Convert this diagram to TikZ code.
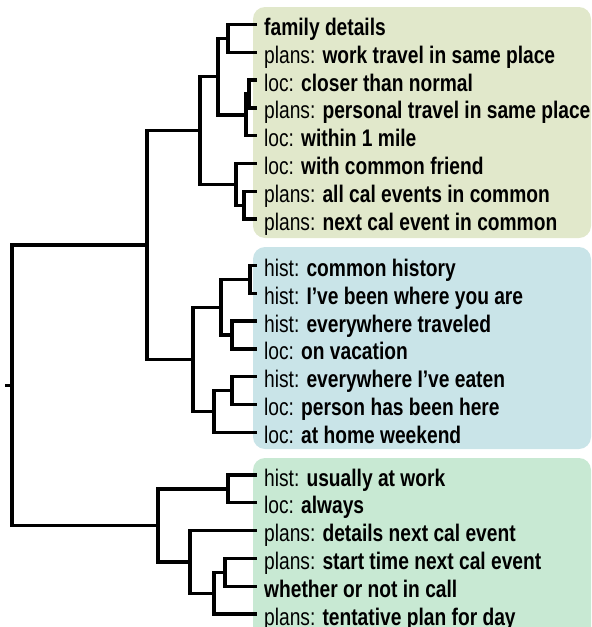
\documentclass[tikz,border=0pt]{standalone}
\usepackage{fontspec}
\setmainfont{Liberation Sans}[FakeStretch=0.8]
\usetikzlibrary{positioning}
\definecolor{pastelolive}{HTML}{E1E8CB}
\definecolor{pastelblue}{HTML}{C9E4E8}
\definecolor{pastelgreen}{HTML}{C8E9D3}
\tikzset{
  leaf/.style={anchor=west, inner xsep=7pt, inner ysep=0pt, text height=26pt, text depth=4pt, font=\fontsize{24}{26}\selectfont},
  under/.style={below=of #1.west, anchor=west},
  branch/.style={line width=3.3pt},
  panel/.style={rounded corners=12pt}
}
\begin{document}
\begin{tikzpicture}[x=1pt, y=-1pt, node distance = 27.8pt]
\useasboundingbox (0,0) rectangle (592,627);
\fill[panel, pastelolive] (253,7) rectangle (591,238);
\fill[panel, pastelblue] (253,247) rectangle (591,449);
\fill[panel, pastelgreen] (253,458) rectangle (591,650);

\node (t1) [leaf] at (257,24.5) {\textbf{family details}};
\node (t2) [leaf, under=t1] {plans: \textbf{work travel in same place}};
\node (t3) [leaf, under=t2] {loc: \textbf{closer than normal}};
\node (t4) [leaf, under=t3] {plans: \textbf{personal travel in same place}};
\node (t5) [leaf, under=t4] {loc: \textbf{within 1 mile}};
\node (t6) [leaf, under=t5] {loc: \textbf{with common friend}};
\node (t7) [leaf, under=t6] {plans: \textbf{all cal events in common}};
\node (t8) [leaf, under=t7] {plans: \textbf{next cal event in common}};

\node (h1) [leaf] at (257,265.5) {hist: \textbf{common history}};
\node (h2) [leaf, under=h1] {hist: \textbf{I’ve been where you are}};
\node (h3) [leaf, under=h2] {hist: \textbf{everywhere traveled}};
\node (h4) [leaf, under=h3] {loc: \textbf{on vacation}};
\node (h5) [leaf, under=h4] {hist: \textbf{everywhere I’ve eaten}};
\node (h6) [leaf, under=h5] {loc: \textbf{person has been here}};
\node (h7) [leaf, under=h6] {loc: \textbf{at home weekend}};

\node (w1) [leaf] at (257,475) {hist: \textbf{usually at work}};
\node (w2) [leaf, under=w1] {loc: \textbf{always}};
\node (w3) [leaf, under=w2] {plans: \textbf{details next cal event}};
\node (w4) [leaf, under=w3] {plans: \textbf{start time next cal event}};
\node (w5) [leaf, under=w4] {\textbf{whether or not in call}};
\node (w6) [leaf, under=w5] {plans: \textbf{tentative plan for day}};

% junctions
\coordinate (fd) at (228,38.4);
\coordinate (cp) at (249,94.0);
\coordinate (cw) at (246,114.85);
\coordinate (ft) at (218,76.6);
\coordinate (an) at (244,205.2);
\coordinate (fa) at (236,184.35);
\coordinate (top) at (200,130.5);
\coordinate (ch) at (250,279.4);
\coordinate (ev) at (232,335);
\coordinate (hv) at (221,307.2);
\coordinate (ep) at (232,390.6);
\coordinate (eh) at (214,411.45);
\coordinate (bl) at (193,359.3);
\coordinate (tb) at (147,244.9);
\coordinate (ua) at (228,488.9);
\coordinate (sw) at (225,572.3);
\coordinate (st) at (214,593.15);
\coordinate (ds) at (190,561.9);
\coordinate (gr) at (158,525.4);
\coordinate (root) at (12,385.15);
\coordinate (stub) at (5,385.15);

\draw[branch] (fd) |- (t1.west);
\draw[branch] (fd) |- (t2.west);
\draw[branch] (cp) |- (t3.west);
\draw[branch] (cp) |- (t4.west);
\draw[branch] (cw) |- (cp);
\draw[branch] (cw) |- (t5.west);
\draw[branch] (ft) |- (fd);
\draw[branch] (ft) |- (cw);
\draw[branch] (an) |- (t7.west);
\draw[branch] (an) |- (t8.west);
\draw[branch] (fa) |- (t6.west);
\draw[branch] (fa) |- (an);
\draw[branch] (top) |- (ft);
\draw[branch] (top) |- (fa);

\draw[branch] (ch) |- (h1.west);
\draw[branch] (ch) |- (h2.west);
\draw[branch] (ev) |- (h3.west);
\draw[branch] (ev) |- (h4.west);
\draw[branch] (hv) |- (ch);
\draw[branch] (hv) |- (ev);
\draw[branch] (ep) |- (h5.west);
\draw[branch] (ep) |- (h6.west);
\draw[branch] (eh) |- (ep);
\draw[branch] (eh) |- (h7.west);
\draw[branch] (bl) |- (hv);
\draw[branch] (bl) |- (eh);
\draw[branch] (tb) |- (top);
\draw[branch] (tb) |- (bl);

\draw[branch] (ua) |- (w1.west);
\draw[branch] (ua) |- (w2.west);
\draw[branch] (sw) |- (w4.west);
\draw[branch] (sw) |- (w5.west);
\draw[branch] (st) |- (sw);
\draw[branch] (st) |- (w6.west);
\draw[branch] (ds) |- (w3.west);
\draw[branch] (ds) |- (st);
\draw[branch] (gr) |- (ua);
\draw[branch] (gr) |- (ds);

\draw[branch] (root) |- (tb);
\draw[branch] (root) |- (gr);
\draw[branch] (stub) -- (root);
\end{tikzpicture}
\end{document}
